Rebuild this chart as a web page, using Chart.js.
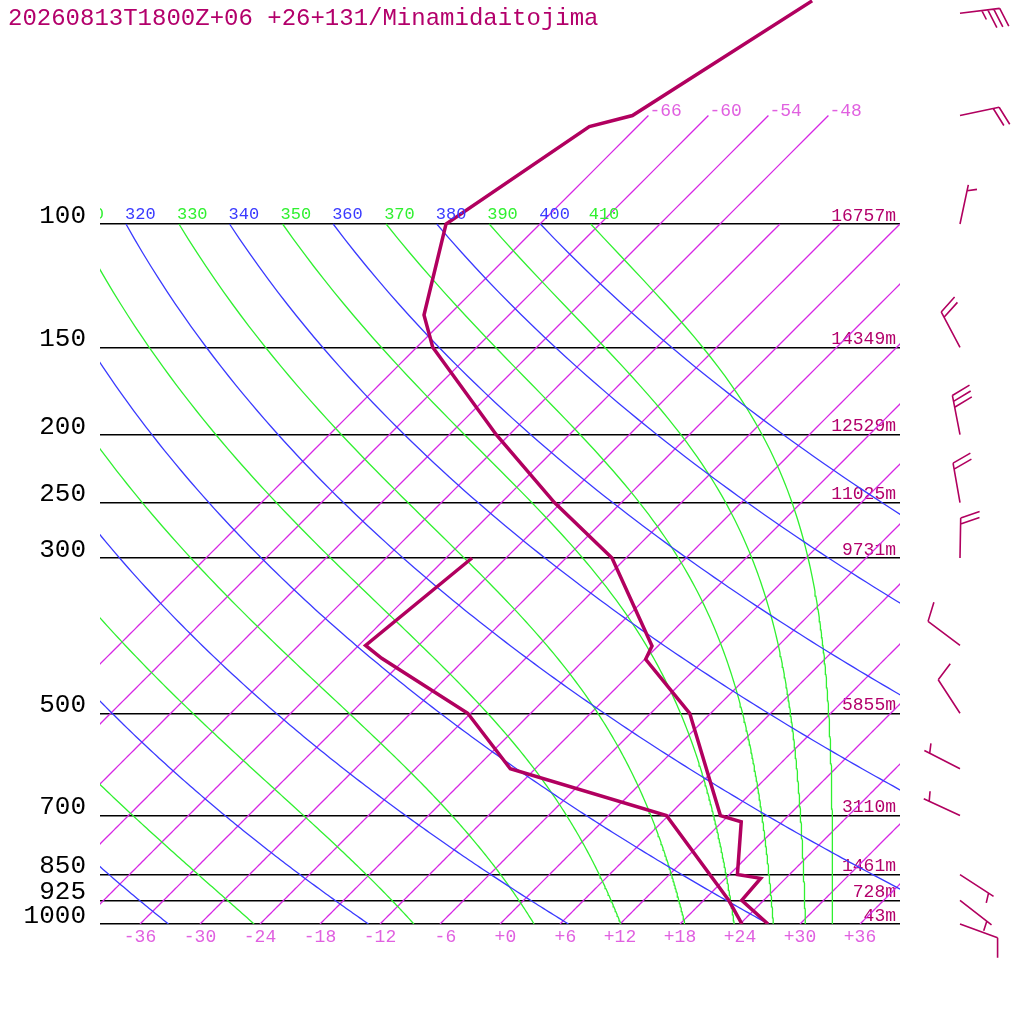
<!DOCTYPE html>
<html>
<head>
<meta charset="utf-8">
<script src="https://cdn.jsdelivr.net/npm/chart.js@4.4.1/dist/chart.umd.min.js"></script>
<style>html,body{margin:0;padding:0;background:#fff}canvas{display:block}</style>
</head>
<body>
<canvas id="c" width="1024" height="1024"></canvas>
<script>
// ---------------- data ----------------
const titleText = '20260813T1800Z+06 +26+131/Minamidaitojima';
const isobarLevels = [100, 150, 200, 250, 300, 500, 700, 850, 925, 1000];
const isobarHeights = ['16757m', '14349m', '12529m', '11025m', '9731m', '5855m', '3110m', '1461m', '728m', '43m'];
const tempTicks = [-36, -30, -24, -18, -12, -6, 0, 6, 12, 18, 24, 30, 36];
const isotherms = [-66, -60, -54, -48, -42, -36, -30, -24, -18, -12, -6, 0, 6, 12, 18, 24, 30, 36];
const isothermsLabelled = [-66, -60, -54, -48];
const dryThetas = [240, 260, 280, 300, 320, 340, 360, 380, 400];
const moistThetaEs = [250, 270, 290, 310, 330, 350, 370, 390, 410];

// temperature profile (hPa, degC)
const tempP = [48, 70, 72.6, 100, 134.9, 150, 200, 250, 300, 400.7, 418.7, 500, 700, 714.4, 850, 860.6, 925, 1000];
const tempT = [-61.1, -67.6, -70.8, -75.4, -68.5, -64.4, -49.3, -36.7, -25.4, -12.6, -11.9, -2.1, 11.2, 13.9, 18.8, 21.5, 21.8, 26.8];
// dew point profile (hPa, degC)
const dewP = [300, 400, 417.3, 500, 600, 700, 925, 1000];
const dewT = [-39.4, -41.3, -38.4, -24.3, -14.5, 5.8, 20.5, 24.2];

// winds (hPa, direction deg, speed kt)
const windP = [50, 70, 100, 150, 200, 250, 300, 400, 500, 600, 700, 850, 925, 1000];
const windDir = [83, 78, 12, 332, 349, 350, 1, 307, 327, 297, 295, 123, 128, 110];
const windSpd = [35, 20, 5, 20, 30, 20, 20, 10, 10, 5, 5, 5, 5, 10];

// ---------------- style / geometry ----------------
const SKEW = 70;                 // deg per decade of pressure
const P_BOTTOM = 1000;
const P_TOP_CANVAS = 1000 / Math.pow(10, 924 / 700);
const P_TOP_LINES = 100;
const P_TOP_LONG = 70;
const KAPPA = 0.2857;
const FONT = 'Liberation Mono';
const C_PROFILE = '#b1005f';
const C_TEXT = '#b3006b';
const C_ISO = 'rgb(214,40,228)';
const C_ISO_TXT = '#e060e0';
const C_DRY = 'rgb(58,58,255)';
const C_MOIST = 'rgb(48,240,48)';

const skewX = (T, p) => T + SKEW * Math.log10(P_BOTTOM / p);

function esat(Tk) { const c = Tk - 273.15; return 6.112 * Math.exp(17.67 * c / (c + 243.5)); }
function thetaESat(Tk, p) {
  const e = esat(Tk); const r = 622 * e / (p - e);
  return Tk * Math.pow(1000 / p, 0.2854 * (1 - 0.00028 * r)) * Math.exp((3.376 / Tk - 0.00254) * r * (1 + 0.00081 * r));
}
function moistT(thE, p) {
  let lo = 120, hi = thE * Math.pow(p / 1000, KAPPA) + 1;
  for (let i = 0; i < 60; i++) { const m = (lo + hi) / 2; if (thetaESat(m, p) > thE) hi = m; else lo = m; }
  return (lo + hi) / 2 - 273.15;
}
const sampleP = [];
for (let p = P_BOTTOM; p >= P_TOP_LINES; p -= 5) sampleP.push(p);
const sampleLong = sampleP.concat([95, 90, 85, 80, 75, 70]);

const base = { showLine: true, pointRadius: 0, pointHoverRadius: 0, pointBorderWidth: 0, fill: false, tension: 0 };
const datasets = [];
isotherms.forEach(T => {
  const ps = isothermsLabelled.includes(T) ? sampleLong : sampleP;
  datasets.push(Object.assign({}, base, { data: ps.map(p => ({ x: skewX(T, p), y: p })),
    borderColor: C_ISO, backgroundColor: C_ISO, pointBackgroundColor: C_ISO, pointBorderColor: C_ISO, borderWidth: 1.3, order: 3 }));
});
dryThetas.forEach(th => {
  datasets.push(Object.assign({}, base, { data: sampleP.map(p => ({ x: skewX(th * Math.pow(p / 1000, KAPPA) - 273.15, p), y: p })),
    borderColor: C_DRY, backgroundColor: C_DRY, borderWidth: 1.3, order: 2 }));
});
moistThetaEs.forEach(th => {
  datasets.push(Object.assign({}, base, { data: sampleP.map(p => ({ x: skewX(moistT(th, p), p), y: p })),
    borderColor: C_MOIST, backgroundColor: C_MOIST, borderWidth: 1.3, order: 2 }));
});
datasets.push(Object.assign({}, base, { data: dewP.map((p, i) => ({ x: skewX(dewT[i], p), y: p })), borderColor: C_PROFILE, backgroundColor: C_PROFILE, borderWidth: 3.5, order: 0 }));
datasets.push(Object.assign({}, base, { data: tempP.map((p, i) => ({ x: skewX(tempT[i], p), y: p })), borderColor: C_PROFILE, backgroundColor: C_PROFILE, borderWidth: 3.5, order: 0 }));

const setPTicks = s => { s.ticks = isobarLevels.map(v => ({ value: v })); };

const labelPlugin = {
  id: 'skewLabels',
  afterDatasetsDraw(chart) {
    const { ctx, chartArea: ca, scales: { x, y } } = chart;
    ctx.save();
    ctx.beginPath(); ctx.rect(ca.left, 0, ca.right - ca.left, ca.bottom); ctx.clip();
    ctx.font = '17px "' + FONT + '"'; ctx.textAlign = 'left'; ctx.textBaseline = 'alphabetic';
    const y100 = y.getPixelForValue(P_TOP_LINES);
    dryThetas.forEach(th => {
      const px = x.getPixelForValue(skewX(th * Math.pow(P_TOP_LINES / 1000, KAPPA) - 273.15, P_TOP_LINES));
      ctx.fillStyle = C_DRY; ctx.fillText(String(th), px - 1, y100 - 5.5);
    });
    moistThetaEs.forEach(th => {
      const px = x.getPixelForValue(skewX(moistT(th, P_TOP_LINES), P_TOP_LINES));
      ctx.fillStyle = C_MOIST; ctx.fillText(String(th), px - 2, y100 - 5.5);
    });
    ctx.font = '18px "' + FONT + '"'; ctx.fillStyle = C_ISO_TXT;
    isothermsLabelled.forEach(T => {
      const px = x.getPixelForValue(skewX(T, P_TOP_LONG)), py = y.getPixelForValue(P_TOP_LONG);
      ctx.fillText(String(T), px + 1, py);
    });
    ctx.restore();
  },
  afterDraw(chart) {
    const { ctx, chartArea: ca, scales: { y } } = chart;
    ctx.save();
    ctx.font = '24px "' + FONT + '"'; ctx.fillStyle = C_TEXT; ctx.textAlign = 'left'; ctx.textBaseline = 'alphabetic';
    ctx.fillText(titleText, 8, 25);
    // wind barbs
    const bx = ca.right + 60, L = 40, sp = 6, rot = 70 * Math.PI / 180;
    ctx.strokeStyle = C_PROFILE; ctx.lineWidth = 1.6;
    windP.forEach((p, i) => {
      const by = y.getPixelForValue(p);
      const a = windDir[i] * Math.PI / 180;
      const ux = Math.sin(a), uy = -Math.cos(a);
      const tx = bx + ux * L, ty = by + uy * L;
      const vx = ux * Math.cos(rot) - uy * Math.sin(rot), vy = ux * Math.sin(rot) + uy * Math.cos(rot);
      ctx.beginPath(); ctx.moveTo(bx, by); ctx.lineTo(tx, ty);
      const full = Math.floor(windSpd[i] / 10), half = Math.round((windSpd[i] - full * 10) / 5);
      let k = full === 0 && half ? 1 : 0;
      for (let f = 0; f < full; f++, k++) { const sx = tx - ux * sp * k, sy = ty - uy * sp * k; ctx.moveTo(sx, sy); ctx.lineTo(sx + vx * 20, sy + vy * 20); }
      if (half) { const sx = tx - ux * sp * k, sy = ty - uy * sp * k; ctx.moveTo(sx, sy); ctx.lineTo(sx + vx * 10, sy + vy * 10); }
      ctx.stroke();
    });
    ctx.restore();
  }
};

Chart.defaults.font.family = FONT;
new Chart(document.getElementById('c'), {
  type: 'scatter',
  data: { datasets },
  options: {
    responsive: false, animation: false, devicePixelRatio: 1,
    layout: { padding: 0 },
    plugins: { legend: { display: false }, tooltip: { enabled: false }, title: { display: false }, colors: { enabled: false } },
    events: [],
    scales: {
      x: {
        type: 'linear', position: 'bottom', min: -40, max: 40,
        grid: { display: false, drawTicks: false }, border: { display: false },
        ticks: { color: C_ISO_TXT, font: { family: FONT, size: 18 }, padding: 2, autoSkip: false, maxRotation: 0,
          callback: v => ((v >= 0 ? '+' : '') + v).padStart(3, ' ') },
        afterBuildTicks: s => { s.ticks = tempTicks.map(v => ({ value: v })); },
        afterFit: s => { s.height = 100; s.paddingLeft = 0; s.paddingRight = 0; }
      },
      y: {
        type: 'logarithmic', position: 'left', reverse: true, min: P_TOP_CANVAS, max: P_BOTTOM,
        grid: { color: '#000', lineWidth: 1.5, drawTicks: false }, border: { display: false },
        ticks: { color: '#000', font: { family: FONT, size: 26 }, padding: 14, labelOffset: -8, autoSkip: false, callback: v => String(v) },
        afterBuildTicks: setPTicks,
        afterFit: s => { s.width = 100; s.paddingTop = 0; s.paddingBottom = 0; }
      },
      yh: {
        type: 'logarithmic', position: 'right', reverse: true, min: P_TOP_CANVAS, max: P_BOTTOM,
        grid: { display: false, drawTicks: false }, border: { display: false },
        ticks: { mirror: true, color: C_TEXT, font: { family: FONT, size: 18 }, padding: -4, labelOffset: -8, autoSkip: false,
          callback: v => { const i = isobarLevels.indexOf(v); return i >= 0 ? isobarHeights[i] : ''; } },
        afterBuildTicks: setPTicks,
        afterFit: s => { s.width = 124; s.paddingTop = 0; s.paddingBottom = 0; }
      }
    }
  },
  plugins: [labelPlugin]
});
</script>
</body>
</html>
